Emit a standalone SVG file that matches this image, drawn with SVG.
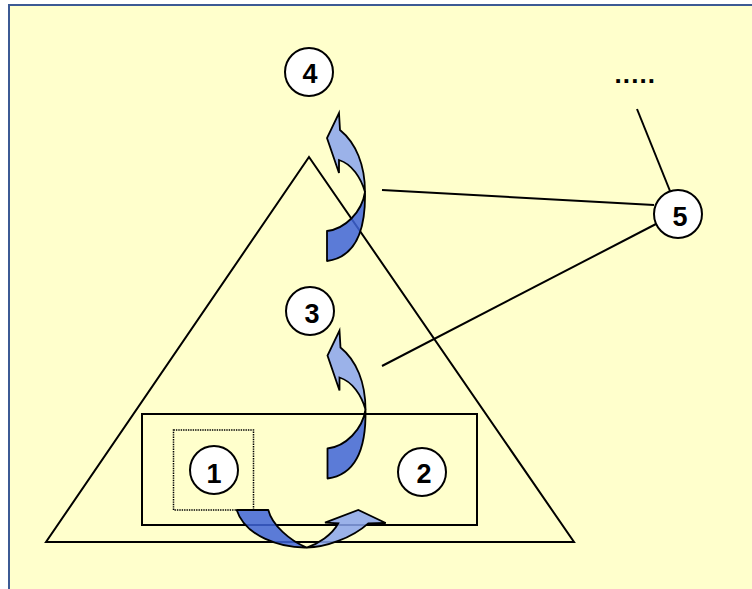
<svg xmlns="http://www.w3.org/2000/svg" xmlns:xlink="http://www.w3.org/1999/xlink" width="752" height="589" viewBox="0 0 752 589">
  <style>
    .edge { fill: none; stroke: #000; stroke-width: 2; }
    .node circle { fill: #fff; stroke: #000; stroke-width: 2; }
    .label { font-family: "Liberation Sans", Arial, sans-serif; font-weight: bold; font-size: 27px; text-anchor: middle; fill: #000; }
    .back { fill: #3e64d8; fill-opacity: 0.85; stroke: #000; stroke-width: 1.8; stroke-linejoin: round; }
    .front { fill: #8aa4ed; fill-opacity: 0.85; stroke: #000; stroke-width: 1.8; stroke-linejoin: miter; }
  </style>
  <defs>
    <!-- curved arrow bending up, head at the top -->
    <g id="curveUp">
      <path class="back" d="M327,261 L327,231 C345,229 362,212 365,192 C366,240 350,258 327,261 Z"/>
      <path class="front" d="M365,192 C365,165 356,143 340,130 L339,113 L327,138 L339,173 L339,160 C352,164 361,178 365,192 Z"/>
    </g>
  </defs>

  <!-- panel -->
  <rect x="0" y="0" width="752" height="589" fill="#fff"/>
  <rect x="9" y="5" width="760" height="600" fill="#ffffcc" stroke="#3c5a94" stroke-width="2"/>

  <!-- frames -->
  <g id="triangle">
    <polygon class="edge" points="309,157 574,542 46,542"/>
  </g>
  <g id="box">
    <rect class="edge" x="142" y="414" width="335" height="111"/>
  </g>
  <g id="inner-box">
    <rect x="173.5" y="430" width="80" height="80" fill="none" stroke="#000" stroke-width="1.5" stroke-dasharray="1.4 1"/>
  </g>

  <g id="connectors">
    <line class="edge" x1="382" y1="190" x2="654" y2="205"/>
    <line class="edge" x1="382" y1="366" x2="656" y2="224"/>
    <line class="edge" x1="637" y1="109" x2="670" y2="191"/>
  </g>

  <g id="arrows">
    <use xlink:href="#curveUp"/>
    <use xlink:href="#curveUp" transform="translate(0.5,217.5)"/>
    <g id="curveRight">
      <path class="back" d="M236.7,510 L268.3,510 C272,525 290,541 306.7,547.5 C280,548 245,536 236.7,510 Z"/>
      <path class="front" d="M306.7,547.5 C325,547.5 352,538 368.3,523.3 L385.7,523 L358.3,510 L325,522.7 L338.3,523.3 C332,535 318,544 306.7,547.5 Z"/>
    </g>
  </g>

  <g id="n1" class="node">
    <circle cx="214" cy="470" r="24"/>
    <text class="label" x="214" y="483">1</text>
  </g>
  <g id="n2" class="node">
    <circle cx="422" cy="472" r="24"/>
    <text class="label" x="424" y="483">2</text>
  </g>
  <g id="n3" class="node">
    <circle cx="310" cy="311" r="24"/>
    <text class="label" x="312" y="323">3</text>
  </g>
  <g id="n4" class="node">
    <circle cx="309" cy="72" r="24"/>
    <text class="label" x="310" y="83">4</text>
  </g>
  <g id="n5" class="node">
    <circle cx="678" cy="214" r="24"/>
    <text class="label" x="680" y="226">5</text>
  </g>
  <g id="more">
    <text x="614.5" y="83" font-family="'Liberation Sans', Arial, sans-serif" font-weight="bold" font-size="26" letter-spacing="1.1">.....</text>
  </g>
</svg>
